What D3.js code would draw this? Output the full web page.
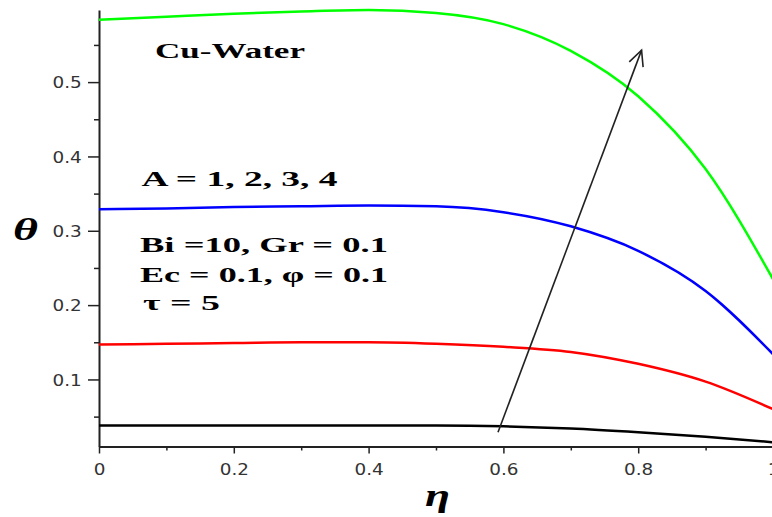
<!DOCTYPE html>
<html><head><meta charset="utf-8">
<script src="https://cdn.jsdelivr.net/npm/d3@7"></script>
<style>
html,body{margin:0;padding:0;background:#fff;overflow:hidden}
svg{display:block}
</style></head>
<body>
<svg id="chart" width="772" height="517"></svg>
<script>
// ---- data ----
const eta = [0, 0.1, 0.2, 0.3, 0.4, 0.5, 0.6, 0.7, 0.8, 0.9, 1.0];
const thetaA1 = [0.038, 0.038, 0.038, 0.038, 0.038, 0.038, 0.037, 0.034, 0.029, 0.023, 0.0155];
const thetaA2 = [0.147, 0.148, 0.149, 0.150, 0.150, 0.148, 0.144, 0.137, 0.121, 0.097, 0.060];
const thetaA3 = [0.329, 0.330, 0.332, 0.333, 0.334, 0.333, 0.325, 0.306, 0.273, 0.219, 0.134];
const thetaA4 = [0.584, 0.588, 0.592, 0.595, 0.597, 0.593, 0.578, 0.542, 0.481, 0.383, 0.235];
const seriesNames = ["A = 1", "A = 2", "A = 3", "A = 4"];
const xTicks = [0, 0.2, 0.4, 0.6, 0.8, 1];
const xTickLabels = ["0", "0.2", "0.4", "0.6", "0.8", "1"];
const xMinor = [0.1, 0.3, 0.5, 0.7, 0.9];
const yTicks = [0.1, 0.2, 0.3, 0.4, 0.5];
const yTickLabels = ["0.1", "0.2", "0.3", "0.4", "0.5"];
const yMinor = [0.05, 0.15, 0.25, 0.35, 0.45, 0.55];
const xDomain = [0, 1];
const yDomain = [0.0098, 0.597];
const arrowFrom = [0.592, 0.029];
const arrowTo = [0.805, 0.543];
const annotationTexts = ["Cu-Water", "A = 1, 2, 3, 4", "Bi =10, Gr = 0.1", "Ec = 0.1, \u03C6 = 0.1", "\u03C4 = 5"];
const xTitle = "\u03B7";
const yTitle = "\u03B8";

// ---- layout / style ----
const seriesColors = ["#000000", "#ff0000", "#0000ff", "#00ff00"];
const annLayout = [
  {x: 155, y: 58, w: 150},
  {x: 141.5, y: 186, w: 196},
  {x: 140, y: 251.5, w: 248},
  {x: 140, y: 281.5, w: 248},
  {x: 143, y: 310, w: 77}
];

const svg = d3.select("#chart");
const x = d3.scaleLinear().domain(xDomain).range([99, 773]);
const y = d3.scaleLinear().domain(yDomain).range([446.5, 10]);

const axisColor = "#222";

// minor ticks
svg.append("g").attr("transform", "translate(0,446.5)")
  .call(d3.axisBottom(x).tickValues(xMinor).tickSize(4).tickFormat(""))
  .call(g => g.select(".domain").remove())
  .selectAll("line").attr("stroke", axisColor).attr("stroke-width", 1.5);
svg.append("g").attr("transform", "translate(99,0)")
  .call(d3.axisLeft(y).tickValues(yMinor).tickSize(5).tickFormat(""))
  .call(g => g.select(".domain").remove())
  .selectAll("line").attr("stroke", axisColor).attr("stroke-width", 1.5);

// major axes
const gx = svg.append("g").attr("transform", "translate(0,446.5)")
  .call(d3.axisBottom(x).tickValues(xTicks).tickSize(7).tickSizeOuter(0)
    .tickFormat((d, i) => xTickLabels[i]));
const gy = svg.append("g").attr("transform", "translate(99,0)")
  .call(d3.axisLeft(y).tickValues(yTicks).tickSize(11).tickSizeOuter(0)
    .tickFormat((d, i) => yTickLabels[i]));
[gx, gy].forEach(g => {
  g.select(".domain").attr("stroke", axisColor).attr("stroke-width", 2);
  g.selectAll(".tick line").attr("stroke", axisColor).attr("stroke-width", 1.5);
  g.selectAll(".tick text").attr("fill", "#333")
    .style("font-family", "'DejaVu Sans', sans-serif").style("font-size", "16px");
});
gx.selectAll(".tick text").attr("y", 28.5).attr("dy", null)
  .attr("transform", "scale(1.15,1)");
gy.selectAll(".tick text").attr("x", -15).attr("dy", "0.35em")
  .attr("transform", "scale(1.15,1)");

// curves
const allSeries = [thetaA1, thetaA2, thetaA3, thetaA4];
const line = d3.line().x((d, i) => x(eta[i])).y(d => y(d)).curve(d3.curveMonotoneX);
allSeries.forEach((s, k) => {
  svg.append("path").datum(s).attr("d", line)
    .attr("fill", "none").attr("stroke", seriesColors[k]).attr("stroke-width", 2.5)
    .attr("data-name", seriesNames[k]);
});

// arrow
const ax0 = x(arrowFrom[0]), ay0 = y(arrowFrom[1]);
const ax1 = x(arrowTo[0]), ay1 = y(arrowTo[1]);
svg.append("line").attr("x1", ax0).attr("y1", ay0).attr("x2", ax1).attr("y2", ay1)
  .attr("stroke", "#222").attr("stroke-width", 1.6);
const ang = Math.atan2(ay1 - ay0, ax1 - ax0);
const hl = 17, ha = 0.45;
const hp = [
  [ax1 - hl * Math.cos(ang - ha), ay1 - hl * Math.sin(ang - ha)],
  [ax1, ay1],
  [ax1 - hl * Math.cos(ang + ha), ay1 - hl * Math.sin(ang + ha)]
];
svg.append("path").attr("d", d3.line()(hp)).attr("fill", "none")
  .attr("stroke", "#222").attr("stroke-width", 1.6);

// annotations
svg.selectAll("text.ann").data(annotationTexts).enter().append("text")
  .attr("class", "ann")
  .attr("x", (d, i) => annLayout[i].x).attr("y", (d, i) => annLayout[i].y)
  .attr("textLength", (d, i) => annLayout[i].w)
  .attr("lengthAdjust", "spacingAndGlyphs")
  .style("font-family", "'Liberation Serif', 'Times New Roman', serif")
  .style("font-weight", "bold").style("font-size", "22px")
  .attr("fill", "#000")
  .text(d => d);

// axis titles
svg.append("text").attr("x", 13).attr("y", 240)
  .attr("textLength", 25).attr("lengthAdjust", "spacingAndGlyphs")
  .style("font-family", "'Liberation Serif', serif").style("font-weight", "bold")
  .style("font-style", "italic").style("font-size", "31px").text(yTitle);
svg.append("text").attr("x", 425).attr("y", 506)
  .attr("textLength", 25).attr("lengthAdjust", "spacingAndGlyphs")
  .style("font-family", "'Liberation Serif', serif").style("font-weight", "bold")
  .style("font-style", "italic").style("font-size", "31px").text(xTitle);
</script>
</body></html>
